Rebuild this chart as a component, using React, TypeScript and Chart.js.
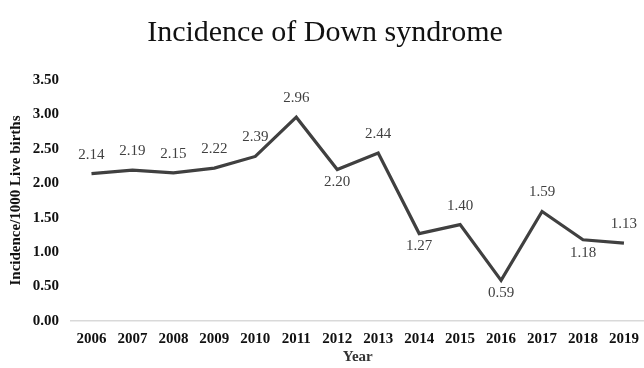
import React, { useEffect, useRef } from "react";
import { Chart, registerables } from "chart.js";

Chart.register(...registerables);

const years = ["2006", "2007", "2008", "2009", "2010", "2011", "2012", "2013", "2014", "2015", "2016", "2017", "2018", "2019"];
const incidence = [2.14, 2.19, 2.15, 2.22, 2.39, 2.96, 2.2, 2.44, 1.27, 1.4, 0.59, 1.59, 1.18, 1.13];
const labelPlacement = ["above", "above", "above", "above", "above", "above", "below", "above", "below", "above", "below", "above", "below", "above"];
const yTicks = [0, 0.5, 1, 1.5, 2, 2.5, 3, 3.5];

const SERIF = "'Liberation Serif', 'Times New Roman', serif";

const dataLabelPlugin = {
  id: "dataLabels",
  afterDatasetsDraw(chart: any) {
    const ctx = chart.ctx;
    const meta = chart.getDatasetMeta(0);
    ctx.save();
    ctx.font = `15px ${SERIF}`;
    ctx.fillStyle = "#404040";
    ctx.textAlign = "center";
    ctx.textBaseline = "middle";
    meta.data.forEach((pt: any, i: number) => {
      const v = incidence[i];
      const dy = labelPlacement[i] === "below" ? 13 : -19;
      ctx.fillText(v.toFixed(2), pt.x, pt.y + dy);
    });
    ctx.restore();
  },
};

export default function App() {
  const ref = useRef<HTMLCanvasElement | null>(null);
  useEffect(() => {
    if (!ref.current) return;
    const chart = new Chart(ref.current, {
      type: "line",
      data: {
        labels: years,
        datasets: [
          {
            data: incidence,
            borderColor: "#404040",
            borderWidth: 3.2,
            borderJoinStyle: "miter",
            pointRadius: 0,
            tension: 0,
            fill: false,
          },
        ],
      },
      options: {
        animation: false,
        responsive: false,
        maintainAspectRatio: false,
        layout: { padding: { left: 3, right: 1, top: 0, bottom: 0 } },
        plugins: {
          legend: { display: false },
          tooltip: { enabled: false },
          title: {
            display: true,
            text: "Incidence of Down syndrome",
            color: "#111",
            font: { family: SERIF, size: 30, weight: "normal" },
            padding: { top: 15, bottom: 29 },
          },
        },
        scales: {
          x: {
            offset: true,
            grid: { display: false, drawTicks: false },
            border: { display: true, color: "#d9d9d9", width: 1.5 },
            ticks: {
              color: "#111",
              font: { family: SERIF, size: 15, weight: "bold" },
              padding: 9,
              maxRotation: 0,
              autoSkip: false,
            },
            title: {
              display: true,
              text: "Year",
              color: "#333",
              font: { family: SERIF, size: 15, weight: "bold" },
              padding: { top: 0, bottom: 2 },
            },
            afterFit(scale: any) {
              scale.height = 47;
            },
          },
          y: {
            min: 0,
            max: 3.5,
            grid: { display: false, drawTicks: false },
            border: { display: false },
            afterBuildTicks(scale: any) {
              scale.ticks = yTicks.map((v) => ({ value: v }));
            },
            ticks: {
              color: "#111",
              font: { family: SERIF, size: 15, weight: "bold" },
              padding: 12,
              callback: (v: any) => Number(v).toFixed(2),
            },
            title: {
              display: true,
              text: "Incidence/1000 Live births",
              color: "#111",
              font: { family: SERIF, size: 15, weight: "bold" },
              padding: { top: 4, bottom: 4 },
            },
            afterFit(scale: any) {
              scale.width = 68;
            },
          },
        },
      },
      plugins: [dataLabelPlugin],
    });
    return () => chart.destroy();
  }, []);
  return (
    <div style={{ position: "fixed", left: 0, top: 0, width: 644, height: 368, overflow: "hidden", background: "#fff" }}>
      <canvas ref={ref} width={648} height={368} style={{ width: 648, height: 368, display: "block" }} />
    </div>
  );
}
